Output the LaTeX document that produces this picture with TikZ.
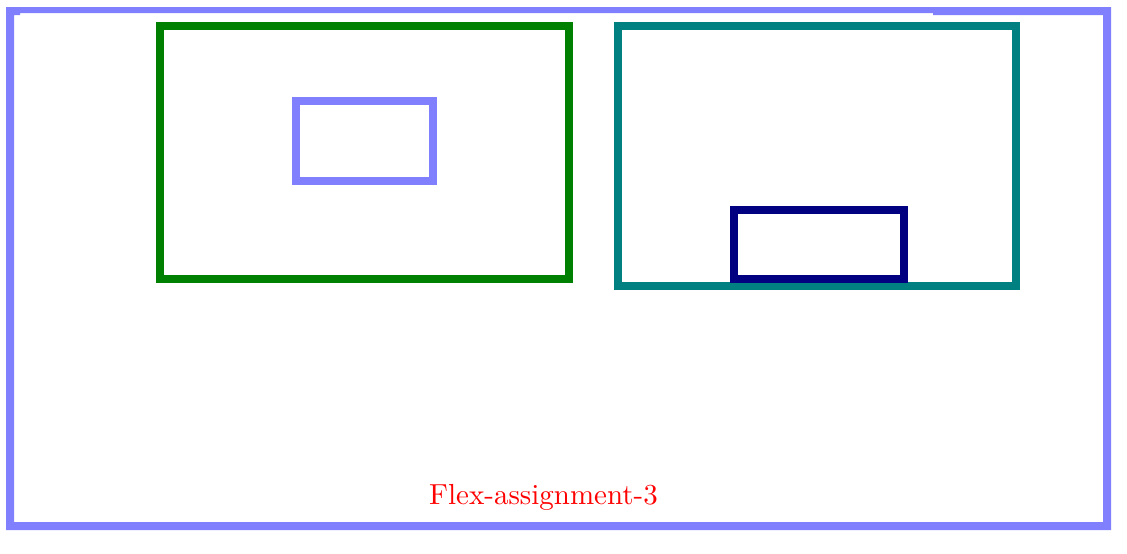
\documentclass[tikz,border=0pt]{standalone}
\usepackage{tikz}
\usetikzlibrary{positioning}

\definecolor{framecol}{HTML}{8080FF}
\definecolor{greencol}{HTML}{008000}
\definecolor{tealcol}{HTML}{008080}
\definecolor{navycol}{HTML}{000080}

\begin{document}
\begin{tikzpicture}[x=1pt,y=-1pt,
  box/.style={line width=8pt},
  label/.style={text=red,font=\normalsize,scale=2.9,anchor=base}]

  \useasboundingbox (0,0) rectangle (1127,554);

  % outer frame
  \fill[framecol,even odd rule] (6,7) rectangle (1111,530)
    (14,15) -- (20,15) -- (20,13) -- (933,13) -- (933,15) -- (1103,15)
    -- (1103,522) -- (14,522) -- cycle;

  \draw[box,greencol] (160,26) rectangle (569,279);
  \draw[box,framecol] (296,101) rectangle (433,181);

  \draw[box,tealcol] (618,26) rectangle (1016,286);
  \draw[box,navycol] (734,210) rectangle (904,279);

  \node[label] (title) at (543.5,504) {Flex-assignment-3};

\end{tikzpicture}
\end{document}
